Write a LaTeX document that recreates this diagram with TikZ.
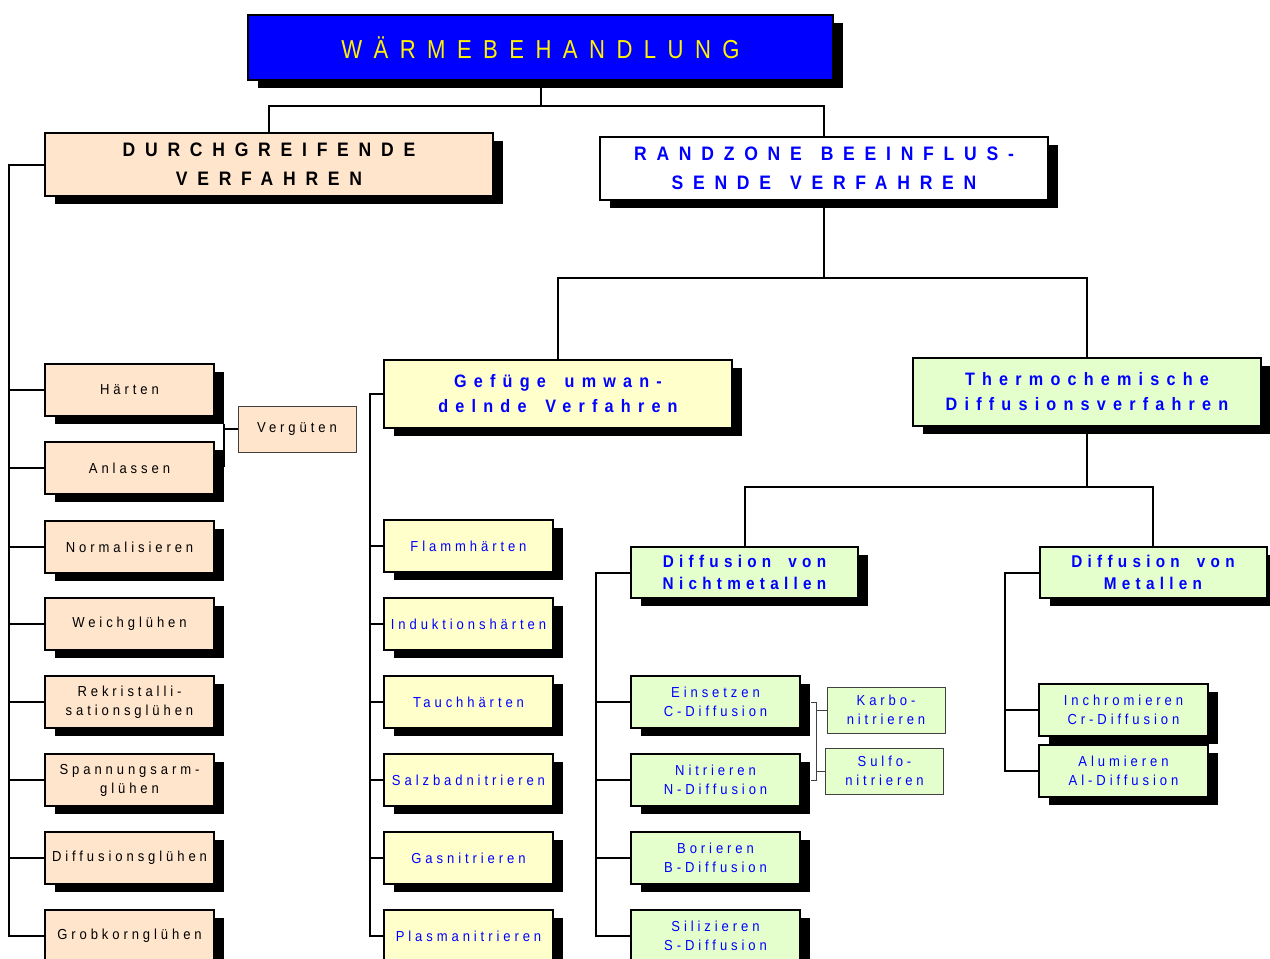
\documentclass[tikz,border=0pt]{standalone}
\usepackage{fontspec}
\setmainfont{Liberation Sans}
\newfontfamily\titlefont{Liberation Sans}[FakeStretch=0.85,LetterSpace=44]
\newfontfamily\headfont{Liberation Sans}[FakeStretch=0.9,LetterSpace=50,WordSpace=1.3]
\newfontfamily\midfont{Liberation Sans}[FakeStretch=0.9,LetterSpace=40,WordSpace=1.6]
\newfontfamily\subfont{Liberation Sans}[FakeStretch=0.9,LetterSpace=31,WordSpace=1.8]
\newfontfamily\leaffont{Liberation Sans}[FakeStretch=0.9,LetterSpace=27]
\usetikzlibrary{shadows}

\definecolor{peach}{HTML}{FFE5CC}
\definecolor{paleyel}{HTML}{FFFFCC}
\definecolor{palegrn}{HTML}{E5FFCC}
\definecolor{txtblue}{HTML}{0000FF}

\tikzset{
  box/.style={draw=black, line width=2pt, rectangle, inner sep=0pt, align=center,
    drop shadow={shadow xshift=10pt, shadow yshift=-8pt, fill=black, opacity=1}},
  leaf/.style={box, minimum width=169pt, minimum height=52pt,
    font=\leaffont\fontsize{14.5}{19}\selectfont},
  peachleaf/.style={leaf, fill=peach},
  yelleaf/.style={leaf, fill=paleyel, text=txtblue},
  grnleaf/.style={leaf, fill=palegrn, text=txtblue},
  sidebox/.style={draw=black!75, line width=1pt, rectangle, inner sep=0pt, align=center,
    minimum width=118pt, minimum height=46pt, font=\leaffont\fontsize{14.5}{19}\selectfont},
  headbox/.style={box, minimum width=448pt, minimum height=63pt,
    font=\headfont\bfseries\fontsize{19.5}{29}\selectfont},
  midbox/.style={box, minimum width=348pt, minimum height=68pt, text=txtblue,
    font=\midfont\bfseries\fontsize{18}{25}\selectfont},
  subbox/.style={box, minimum width=227pt, minimum height=51pt, fill=palegrn, text=txtblue,
    font=\subfont\bfseries\fontsize{17}{22}\selectfont},
  link/.style={line width=2pt},
  thinlink/.style={line width=1pt, draw=black!75}
}

\begin{document}
\begin{tikzpicture}[x=1pt, y=-1pt]
\useasboundingbox (0,0) rectangle (1270,959);

% top
\node[box, fill=blue, text=yellow, minimum width=585pt, minimum height=65pt,
  font=\titlefont\fontsize{26}{30}\selectfont] (title) at (540.5,47.5) {WÄRMEBEHANDLUNG};

\node[headbox, fill=peach] (dg) at (269,164.5) {DURCHGREIFENDE\\VERFAHREN};
\node[headbox, fill=white, text=txtblue] (rz) at (824,168) {RANDZONE BEEINFLUS-\\SENDE VERFAHREN};

\node[midbox, fill=paleyel] (gu) at (558,394) {Gefüge umwan-\\delnde Verfahren};
\node[midbox, fill=palegrn] (td) at (1087,391.5) {Thermochemische\\Diffusionsverfahren};

\node[subbox] (dn) at (744.5,572.5) {Diffusion von\\Nichtmetallen};
\node[subbox] (dm) at (1153,572.5) {Diffusion von\\Metallen};

% durchgreifende Verfahren
\node[peachleaf] (l1) at (129.5,390) {Härten};
\node[peachleaf] (l2) at (129.5,468) {Anlassen};
\node[peachleaf] (l3) at (129.5,547) {Normalisieren};
\node[peachleaf] (l4) at (129.5,624) {Weichglühen};
\node[peachleaf] (l5) at (129.5,702) {Rekristalli-\\sationsglühen};
\node[peachleaf] (l6) at (129.5,780) {Spannungsarm-\\glühen};
\node[peachleaf] (l7) at (129.5,858) {Diffusionsglühen};
\node[peachleaf] (l8) at (129.5,936) {Grobkornglühen};
\node[sidebox, fill=peach] (ver) at (297,429) {Vergüten};

% gefuege umwandelnde Verfahren
\node[yelleaf] (m1) at (468.5,546) {Flammhärten};
\node[yelleaf] (m2) at (468.5,624) {Induktionshärten};
\node[yelleaf] (m3) at (468.5,702) {Tauchhärten};
\node[yelleaf] (m4) at (468.5,780) {Salzbadnitrieren};
\node[yelleaf] (m5) at (468.5,858) {Gasnitrieren};
\node[yelleaf] (m6) at (468.5,936) {Plasmanitrieren};

% Nichtmetalle
\node[grnleaf] (n1) at (715.5,702) {Einsetzen\\C-Diffusion};
\node[grnleaf] (n2) at (715.5,780) {Nitrieren\\N-Diffusion};
\node[grnleaf] (n3) at (715.5,858) {Borieren\\B-Diffusion};
\node[grnleaf] (n4) at (715.5,936) {Silizieren\\S-Diffusion};
\node[sidebox, fill=palegrn, text=txtblue] (kn) at (886,710) {Karbo-\\nitrieren};
\node[sidebox, fill=palegrn, text=txtblue] (sn) at (884.5,771) {Sulfo-\\nitrieren};

% Metalle
\node[grnleaf] (k1) at (1123.5,710) {Inchromieren\\Cr-Diffusion};
\node[grnleaf] (k2) at (1123.5,771) {Alumieren\\Al-Diffusion};

% bus coordinates
\coordinate (b1) at (0,106);
\coordinate (b2) at (0,278);
\coordinate (b3) at (0,487);
\coordinate (sl) at (9,0);
\coordinate (sm) at (370,0);
\coordinate (sn0) at (596,0);
\coordinate (sk) at (1005,0);
\coordinate (va) at (224,424);
\coordinate (vb) at (224,467);
\coordinate (sx) at (816,0);

\draw[link] (title.south) -- (b1 -| title.south);
\draw[link] (dg.north) |- (b1 -| title.south) -| (rz.north);
\draw[link] (rz.south) -- (b2 -| rz.south);
\draw[link] (gu.north) |- (b2 -| rz.south) -| (td.north);
\draw[link] (td.south) -- (b3 -| td.south);
\draw[link] (dn.north) |- (b3 -| td.south) -| (dm.north);

\draw[link] (dg.west) -| (sl |- l8.west) -- (l8.west);
\draw[link] (sl |- l1.west) -- (l1.west);
\draw[link] (sl |- l2.west) -- (l2.west);
\draw[link] (sl |- l3.west) -- (l3.west);
\draw[link] (sl |- l4.west) -- (l4.west);
\draw[link] (sl |- l5.west) -- (l5.west);
\draw[link] (sl |- l6.west) -- (l6.west);
\draw[link] (sl |- l7.west) -- (l7.west);
\draw[link] (va) -- (vb);
\draw[link] (va |- ver.west) -- (ver.west);

\draw[link] (gu.west) -| (sm |- m6.west) -- (m6.west);
\draw[link] (sm |- m1.west) -- (m1.west);
\draw[link] (sm |- m2.west) -- (m2.west);
\draw[link] (sm |- m3.west) -- (m3.west);
\draw[link] (sm |- m4.west) -- (m4.west);
\draw[link] (sm |- m5.west) -- (m5.west);

\draw[link] (dn.west) -| (sn0 |- n4.west) -- (n4.west);
\draw[link] (sn0 |- n1.west) -- (n1.west);
\draw[link] (sn0 |- n2.west) -- (n2.west);
\draw[link] (sn0 |- n3.west) -- (n3.west);

\draw[thinlink] ([xshift=10pt]n1.east) -| (sx |- n2.east) -- ([xshift=10pt]n2.east);
\draw[thinlink] (sx |- kn.west) -- (kn.west);
\draw[thinlink] (sx |- sn.west) -- (sn.west);

\draw[link] (dm.west) -| (sk |- k2.west) -- (k2.west);
\draw[link] (sk |- k1.west) -- (k1.west);

\end{tikzpicture}
\end{document}
